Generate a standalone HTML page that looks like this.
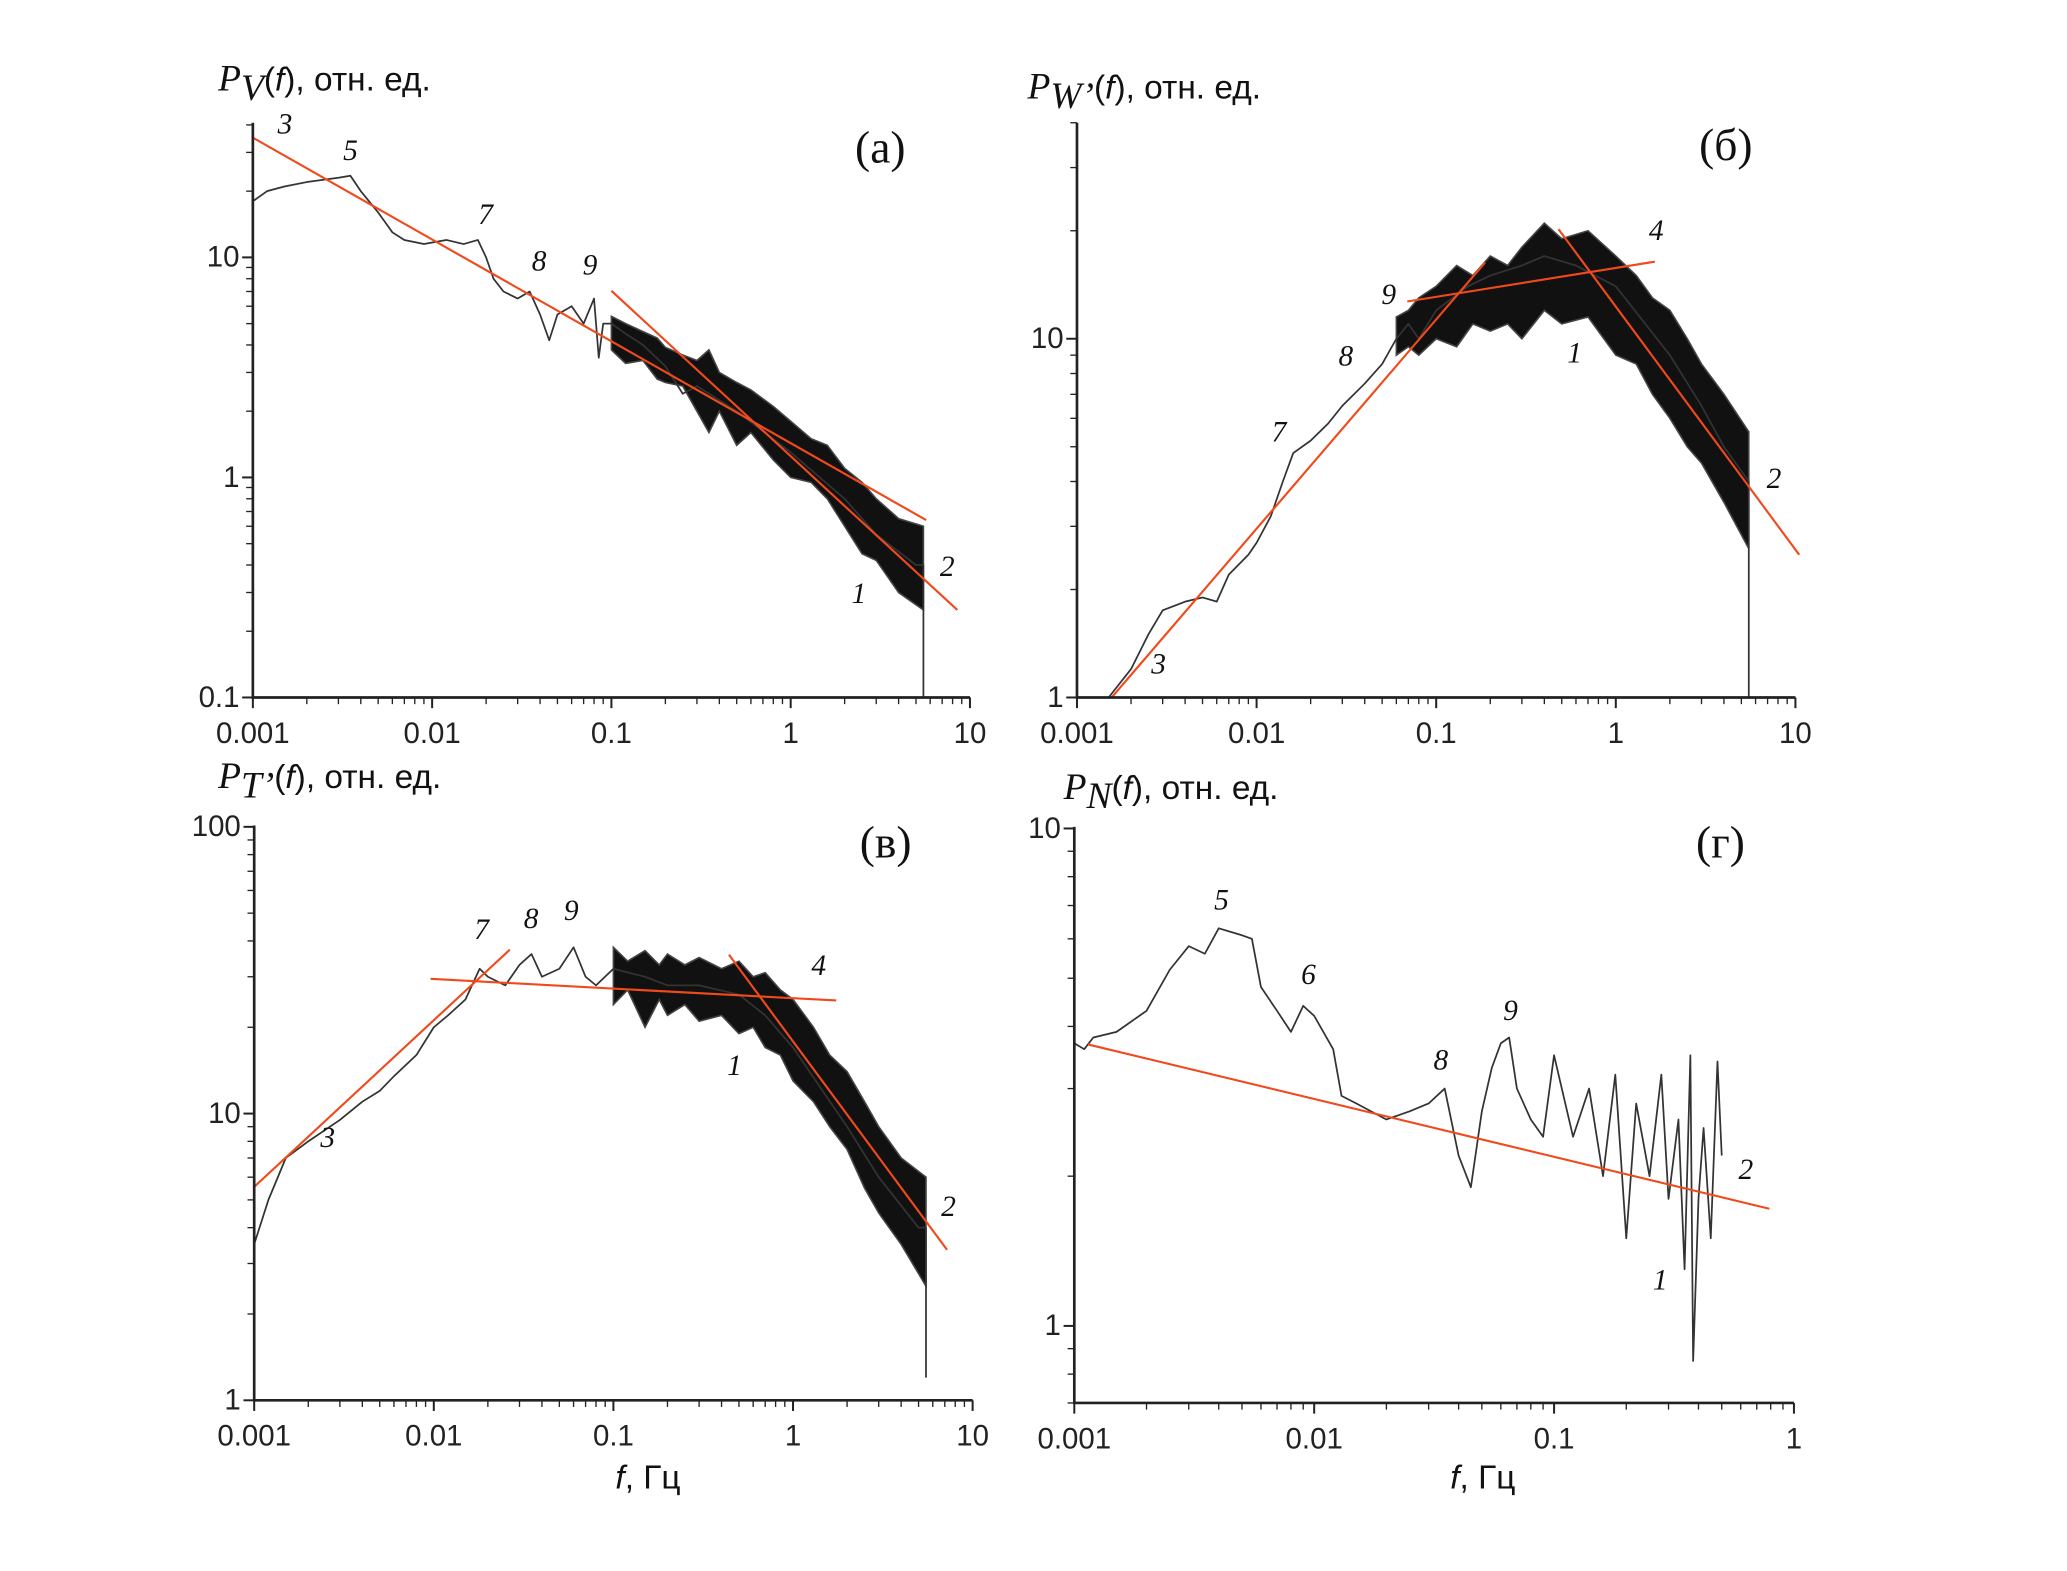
<!DOCTYPE html>
<html><head><meta charset="utf-8"><style>
html,body{margin:0;padding:0;background:#fff;}
svg{display:block;}
.tk{font-family:"Liberation Sans",sans-serif;font-size:22px;fill:#222;}
.lb{font-family:"Liberation Serif",serif;font-style:italic;font-size:22px;fill:#111;}
.pn{font-family:"Liberation Serif",serif;font-size:34px;fill:#111;}
.tt{font-family:"Liberation Sans","DejaVu Sans",sans-serif;font-size:25px;fill:#111;}
.ts{font-family:"Liberation Serif",serif;font-style:italic;font-size:28px;}
</style></head><body>
<svg id="fig" width="2067" height="1571" viewBox="0 0 1545 1178" preserveAspectRatio="none" xmlns="http://www.w3.org/2000/svg">
<text class="tt" x="163" y="68"><tspan class="ts">P</tspan><tspan class="ts" font-size="20" dy="7">V</tspan><tspan dy="-7">(</tspan><tspan font-style="italic">f</tspan>), отн. ед.</text>
<text class="tt" x="768" y="74"><tspan class="ts">P</tspan><tspan class="ts" font-size="20" dy="7">W’</tspan><tspan dy="-7">(</tspan><tspan font-style="italic">f</tspan>), отн. ед.</text>
<text class="tt" x="163" y="591"><tspan class="ts">P</tspan><tspan class="ts" font-size="20" dy="7">T’</tspan><tspan dy="-7">(</tspan><tspan font-style="italic">f</tspan>), отн. ед.</text>
<text class="tt" x="795" y="599"><tspan class="ts">P</tspan><tspan class="ts" font-size="20" dy="7">N</tspan><tspan dy="-7">(</tspan><tspan font-style="italic">f</tspan>), отн. ед.</text>
<text class="tt" x="460" y="1116"><tspan font-style="italic">f</tspan>, Гц</text>
<text class="tt" x="1084" y="1116"><tspan font-style="italic">f</tspan>, Гц</text>
</svg>
<script>
// ---- Panel (a) data ----
const aF=[0.001,0.0012,0.0015,0.002,0.003,0.0035,0.004,0.005,0.006,0.007,0.009,0.012,0.015,0.018,0.02,0.022,0.025,0.03,0.035,0.04,0.045,0.05,0.06,0.07,0.08,0.085,0.09,0.1,0.12,0.15,0.2,0.25,0.3,0.5,1,2,3,5,5.5,5.5];
const aP=[18,20,21,22,23,23.5,20,16,13,12,11.5,12,11.5,12,10,8,7,6.5,7,5.5,4.2,5.5,6,5,6.5,3.5,5,5,4.5,4,3.2,2.4,2.6,2,1.3,0.8,0.55,0.4,0.4,0.1];
const aBandF=[0.1,0.12,0.15,0.18,0.2,0.25,0.3,0.35,0.4,0.5,0.6,0.8,1,1.3,1.6,2,2.5,3,4,5.5];
const aBandLo=[3.8,3.3,3.4,2.8,2.7,2.6,2.0,1.6,2.0,1.4,1.6,1.2,1.0,0.95,0.8,0.6,0.45,0.42,0.3,0.25];
const aBandHi=[5.4,5.0,4.6,4.3,3.9,3.6,3.4,3.8,3.0,2.7,2.5,2.1,1.8,1.5,1.4,1.1,0.95,0.8,0.65,0.6];
const aFits=[[0.001,35,5.7,0.64],[0.1,7.05,8.5,0.25]];
// ---- Panel (b) data ----
const bF=[0.0015,0.002,0.0025,0.003,0.004,0.005,0.006,0.007,0.009,0.01,0.012,0.014,0.016,0.02,0.025,0.03,0.04,0.05,0.06,0.07,0.08,0.1,0.15,0.2,0.3,0.4,0.6,1,2,3,4,5.5,5.5];
const bP=[1.0,1.2,1.5,1.75,1.85,1.9,1.85,2.2,2.5,2.7,3.2,4,4.8,5.2,5.8,6.5,7.5,8.5,10,11,10,12,14,15,16,17,16,14,9,6.5,5,4,1];
const bBandF=[0.06,0.07,0.08,0.1,0.13,0.16,0.2,0.25,0.3,0.4,0.5,0.7,1,1.3,1.6,2,2.5,3,4,5.5];
const bBandLo=[9,9.5,9,10,9.5,11,10.5,11,10,12,11,11.5,9,8.5,7,6,5,4.5,3.5,2.6];
const bBandHi=[11.5,12,13,14,16,15,17,16,18,21,19,20,17,15,13,12,10,8.5,7,5.5];
const bFits=[[0.00156,1,0.187,16.3],[0.069,12.7,1.65,16.4],[0.48,20.2,10.5,2.5]];
// ---- Panel (c) data ----
const cF=[0.001,0.0012,0.0015,0.002,0.003,0.004,0.005,0.006,0.008,0.01,0.012,0.015,0.018,0.02,0.025,0.03,0.035,0.04,0.05,0.06,0.07,0.08,0.1,0.15,0.2,0.3,0.5,0.7,1,2,3,5,5.5,5.5];
const cP=[3.5,5,7,8,9.5,11,12,13.5,16,20,22,25,32,30,28,33,36,30,32,38,30,28,32,30,28,28,26,22,17,9,6,4,4,1.2];
const cBandF=[0.1,0.12,0.15,0.18,0.2,0.25,0.3,0.4,0.5,0.6,0.7,0.85,1,1.3,1.6,2,2.5,3,4,5.5];
const cBandLo=[24,27,20,25,22,24,21,22,19,20,17,16,13,11,9,7.5,5.5,4.5,3.5,2.5];
const cBandHi=[38,34,37,33,36,33,35,32,34,30,31,27,25,20,16,14,11,9,7,6];
const cFits=[[0.001,5.55,0.0265,37.3],[0.0096,29.5,1.74,24.8],[0.44,35.8,7.2,3.35]];
// ---- Panel (d) data ----
const dF=[0.001,0.0011,0.0012,0.0015,0.002,0.0025,0.003,0.0035,0.004,0.005,0.0055,0.006,0.007,0.008,0.009,0.01,0.012,0.013,0.015,0.02,0.025,0.03,0.035,0.04,0.045,0.05,0.055,0.06,0.065,0.07,0.08,0.09,0.1,0.12,0.14,0.16,0.18,0.2,0.22,0.25,0.28,0.3,0.33,0.35,0.37,0.38,0.4,0.42,0.45,0.48,0.5];
const dP=[3.7,3.6,3.8,3.9,4.3,5.2,5.8,5.6,6.3,6.1,6,4.8,4.3,3.9,4.4,4.2,3.6,2.9,2.8,2.6,2.7,2.8,3.0,2.2,1.9,2.7,3.3,3.7,3.8,3.0,2.6,2.4,3.5,2.4,3.0,2.0,3.2,1.5,2.8,2.0,3.2,1.8,2.6,1.3,3.5,0.85,1.8,2.5,1.5,3.4,2.2];
const dFits=[[0.00114,3.68,0.79,1.72]];

const NS='http://www.w3.org/2000/svg';
const svg=document.getElementById('fig');
function mk(tag,attrs,parent){const e=document.createElementNS(NS,tag);for(const k in attrs)e.setAttribute(k,attrs[k]);(parent||svg).appendChild(e);return e;}

const panels=[
 {id:'a',x0:189,dx:134,xmin:-3,xmax:1,yb:523,yv0:-1,dy:165,ytop:92,xt:['0.001','0.01','0.1','1','10'],yt:['0.1','1','10'],F:aF,P:aP,bF:aBandF,bL:aBandLo,bH:aBandHi,fits:aFits,
  labels:[['3',213,100],['5',262,120],['7',363,168],['8',403,203],['9',441,206],['1',642,452],['2',708,432]],pl:['(a)',658,122]},
 {id:'b',x0:805,dx:134.25,xmin:-3,xmax:1,yb:523,yv0:0,dy:269,ytop:92,xt:['0.001','0.01','0.1','1','10'],yt:['1','10'],F:bF,P:bP,bF:bBandF,bL:bBandLo,bH:bBandHi,fits:bFits,
  labels:[['9',1038,228],['8',1006,274],['7',956,331],['3',866,505],['1',1177,272],['4',1238,180],['2',1326,366]],pl:['(б)',1290,120]},
 {id:'c',x0:190,dx:134.25,xmin:-3,xmax:1,yb:1050,yv0:0,dy:215,ytop:619,xt:['0.001','0.01','0.1','1','10'],yt:['1','10','100'],F:cF,P:cP,bF:cBandF,bL:cBandLo,bH:cBandHi,fits:cFits,
  labels:[['7',360,704],['8',397,696],['9',427,690],['3',245,860],['1',549,806],['4',612,731],['2',709,912]],pl:['(в)',662,643]},
 {id:'d',x0:803,dx:179.3,xmin:-3,xmax:0,yb:1052,yv0:Math.log10(0.7),dy:373,ytop:620,xt:['0.001','0.01','0.1','1'],yt:['1','10'],F:dF,P:dP,bF:null,fits:dFits,
  labels:[['5',913,682],['6',978,738],['8',1077,802],['9',1129,765],['1',1241,967],['2',1305,884]],pl:['(г)',1286,643]}
];

panels.forEach(p=>{
 const X=f=>p.x0+(Math.log10(f)-p.xmin)*p.dx;
 const Y=v=>p.yb-(Math.log10(v)-p.yv0)*p.dy;
 const g=mk('g',{});
 
 
 const xr=p.x0+(p.xmax-p.xmin)*p.dx;
 if(p.bF){
  let pts=p.bF.map((f,i)=>X(f)+','+Y(p.bH[i]));
  pts=pts.concat(p.bF.slice().reverse().map((f,i)=>X(f)+','+Y(p.bL[p.bF.length-1-i])));
  const b=mk('polygon',{points:pts.join(' '),fill:'#111',stroke:'#444','stroke-width':'1.2','stroke-linejoin':'miter'},g);
  
  
 }
 const ln=mk('polyline',{points:p.F.map((f,i)=>X(f)+','+Y(p.P[i])).join(' '),fill:'none',stroke:'#333','stroke-width':'1.3','stroke-linejoin':'round'},g);
 
 
 p.fits.forEach((r,i)=>{
  const l=mk('line',{x1:X(r[0]),y1:Y(r[1]),x2:X(r[2]),y2:Y(r[3]),stroke:'#f04a1c','stroke-width':'1.6'},g);
  
  
 });
 const ax=mk('path',{d:`M${p.x0},${p.ytop}V${p.yb}H${xr}`,fill:'none',stroke:'#222','stroke-width':'2'},g);
 
 
 for(let d=p.xmin;d<=p.xmax;d++){
  const xx=p.x0+(d-p.xmin)*p.dx;
  mk('line',{x1:xx,y1:p.yb,x2:xx,y2:p.yb+8,stroke:'#222','stroke-width':'1.5'},g);
  if(d<p.xmax)for(let m=2;m<10;m++){const mx=xx+Math.log10(m)*p.dx;mk('line',{x1:mx,y1:p.yb,x2:mx,y2:p.yb+5,stroke:'#222','stroke-width':'1'},g);}
  const t=mk('text',{x:xx,y:p.yb+34,'text-anchor':'middle',class:'tk'},g);
  t.textContent=p.xt[d-p.xmin];
  
  
 }
 const lo=Math.floor(p.yv0),hi=Math.floor(p.yv0+(p.yb-p.ytop)/p.dy);
 for(let d=lo;d<=hi+1;d++){
  for(let m=1;m<10;m++){
   const v=Math.log10(m)+d; if(v<p.yv0-1e-6)continue;
   const yy=p.yb-(v-p.yv0)*p.dy; if(yy<p.ytop-1)continue;
   mk('line',{x1:p.x0,y1:yy,x2:p.x0-(m===1?8:5),y2:yy,stroke:'#222','stroke-width':m===1?1.5:1},g);
   if(m===1){const t=mk('text',{x:p.x0-10,y:yy+7,'text-anchor':'end',class:'tk'},g);t.textContent=p.yt[d-Math.ceil(p.yv0-1e-6)]||'';
    
    }
  }
 }
 p.labels.forEach(L=>{const t=mk('text',{x:L[1],y:L[2],'text-anchor':'middle',class:'lb'},g);t.textContent=L[0];
  
  });
 const pt=mk('text',{x:p.pl[1],y:p.pl[2],'text-anchor':'middle',class:'pn'},g);pt.textContent=p.pl[0];
 
 
});
</script>
</body></html>
